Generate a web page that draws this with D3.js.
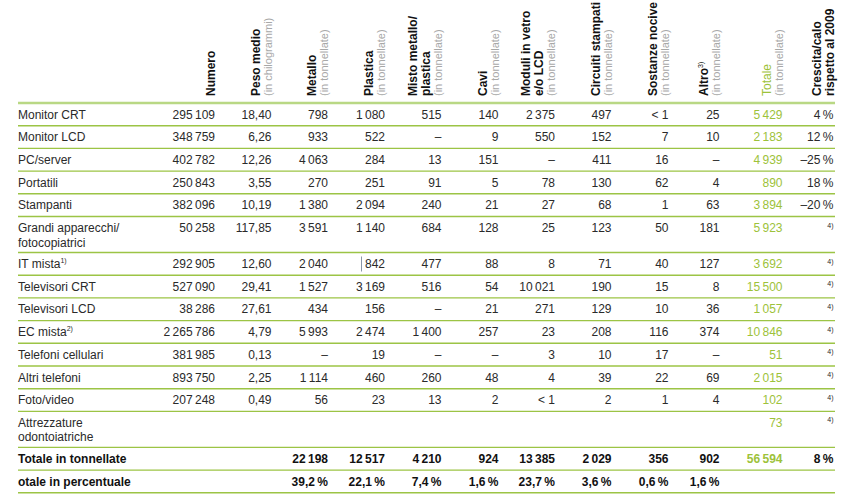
<!DOCTYPE html>
<html><head><meta charset="utf-8">
<script src="https://cdn.jsdelivr.net/npm/d3@7"></script>
<style>
html,body{margin:0;padding:0;background:#fff;}
svg{display:block;font-family:"Liberation Sans",Arial,Helvetica,sans-serif;}
</style></head>
<body><svg id="c" width="844" height="499"></svg>
<script>
// ---------- DATA ----------
const categories = ["Monitor CRT","Monitor LCD","PC/server","Portatili","Stampanti","Grandi apparecchi/|fotocopiatrici","IT mista","Televisori CRT","Televisori LCD","EC mista","Telefoni cellulari","Altri telefoni","Foto/video","Attrezzature|odontoiatriche"];
const categoryNotes = [null,null,null,null,null,null,"1)",null,null,"2)",null,null,null,null];
const numero   = [295109,348759,402782,250843,382096,50258,292905,527090,38286,2265786,381985,893750,207248,null];
const pesoMedio= [18.40,6.26,12.26,3.55,10.19,117.85,12.60,29.41,27.61,4.79,0.13,2.25,0.49,null];
const metallo  = [798,933,4063,270,1380,3591,2040,1527,434,5993,"–",1114,56,null];
const plastica = [1080,522,284,251,2094,1140,842,3169,156,2474,19,460,23,null];
const misto    = [515,"–",13,91,240,684,477,516,"–",1400,"–",260,13,null];
const cavi     = [140,9,151,5,21,128,88,54,21,257,"–",48,2,null];
const moduli   = [2375,550,"–",78,27,25,8,10021,271,23,3,4,"<1",null];
const circuiti = [497,152,411,130,68,123,71,190,129,208,10,39,2,null];
const sostanze = ["<1",7,16,62,1,50,40,15,10,116,17,22,1,null];
const altro    = [25,10,"–",4,63,181,127,8,36,374,"–",69,4,null];
const totale   = [5429,2183,4939,890,3894,5923,3692,15500,1057,10846,51,2015,102,73];
const crescita = [4,12,-25,18,-20,null,null,null,null,null,null,null,null,null];
const crescitaNotes = [null,null,null,null,null,"4)","4)","4)","4)","4)","4)","4)","4)","4)"];

const totalTonLabel = "Totale in tonnellate";
const totalTon = {metallo:22198, plastica:12517, misto:4210, cavi:924, moduli:13385, circuiti:2029, sostanze:356, altro:902, totale:56594, crescita:8};
const totalPctLabel = "otale in percentuale";
const totalPct = {metallo:39.2, plastica:22.1, misto:7.4, cavi:1.6, moduli:23.7, circuiti:3.6, sostanze:0.6, altro:1.6};

const columnKeys = ["numero","peso","metallo","plastica","misto","cavi","moduli","circuiti","sostanze","altro","totale","crescita"];
const columnHeaders = [
  [["b","Numero"]],
  [["b","Peso medio"],["g","(in chilogrammi)"]],
  [["b","Metallo"],["g","(in tonnellate)"]],
  [["b","Plastica"],["g","(in tonnellate)"]],
  [["b","Misto metallo/"],["b","plastica"],["g","(in tonnellate)"]],
  [["b","Cavi"],["g","(in tonnellate)"]],
  [["b","Moduli in vetro"],["b","e/o LCD"],["g","(in tonnellate)"]],
  [["b","Circuiti stampati"],["g","(in tonnellate)"]],
  [["b","Sostanze nocive"],["g","(in tonnellate)"]],
  [["b","Altro","3)"],["g","(in tonnellate)"]],
  [["t","Totale"],["g","(in tonnellate)"]],
  [["b","Crescita/calo"],["b","rispetto al 2009"]]
];

// ---------- LAYOUT ----------
const svg = d3.select("#c");
const GREEN = "#9cc445", GREEN_TEXT = "#9dc23a", TXT = "#2a2a2a", GRAY = "#a8a8a8";
const left = 18, right = 835, headerBottom = 96, headerLine = 103;
const xRight = d3.scaleOrdinal().domain(columnKeys)
  .range([215,271.5,328,385,441.5,498.5,555,611.5,668.5,719.5,782.5,833.5]);

const loc = d3.formatLocale({decimal:",", thousands:"\u2009", grouping:[3], currency:["",""]});
const fInt = loc.format(",d"), fDec2 = loc.format(",.2f"), fDec1 = loc.format(",.1f");
function cell(v){ if(v===null||v===undefined) return ""; if(v==="<1") return "< 1"; if(typeof v==="string") return v; return fInt(v); }

// rows
const rows = categories.map((c,i)=>({
  label:c.split("|"), note:categoryNotes[i], bold:false,
  vals:{numero:cell(numero[i]), peso:pesoMedio[i]===null?"":fDec2(pesoMedio[i]), metallo:cell(metallo[i]), plastica:cell(plastica[i]),
        misto:cell(misto[i]), cavi:cell(cavi[i]), moduli:cell(moduli[i]), circuiti:cell(circuiti[i]), sostanze:cell(sostanze[i]),
        altro:cell(altro[i]), totale:cell(totale[i]),
        crescita: crescita[i]===null?"":(crescita[i]<0?"–"+Math.abs(crescita[i]):crescita[i])+"\u2009%"},
  cnote:crescitaNotes[i]
}));
const tv = {}; Object.keys(totalTon).forEach(k=>tv[k]=k==="crescita"?totalTon[k]+"\u2009%":fInt(totalTon[k]));
rows.push({label:[totalTonLabel], bold:true, vals:tv});
const pv = {}; Object.keys(totalPct).forEach(k=>pv[k]=fDec1(totalPct[k])+"\u2009%");
rows.push({label:[totalPctLabel], bold:true, vals:pv});

const unit = 22.7, extra = 13.3;
let acc = headerLine;
rows.forEach(r=>{ r.y0 = acc; r.h = unit + (r.label.length-1)*extra; acc += r.h; r.y1 = acc; });
const y = d3.scaleLinear().domain([0,1]).range([0,1]);

// header line
svg.append("line").attr("x1",left).attr("x2",right).attr("y1",headerLine).attr("y2",headerLine)
  .attr("stroke","#b9d884").attr("stroke-width",2.5);
// row lines
svg.selectAll("line.row").data(rows).join("line").attr("class","row")
  .attr("x1",left).attr("x2",right).attr("y1",d=>d.y1).attr("y2",d=>d.y1)
  .attr("stroke",GREEN).attr("stroke-width",1.4);

// headers (rotated)
columnKeys.forEach((k,ci)=>{
  const lines = columnHeaders[ci];
  let base = xRight(k);
  const bases = [];
  for(let i=lines.length-1;i>=0;i--){
    bases[i]=base;
    if(i>0){ base -= (lines[i][0]==="g" ? 12 : 13); }
  }
  lines.forEach((ln,i)=>{
    const t = svg.append("text")
      .attr("transform",`translate(${bases[i]},${headerBottom}) rotate(-90)`)
      .attr("text-anchor","start")
      .attr("font-size", ln[0]==="g"?11:12)
      .attr("font-weight", ln[0]==="b"?"bold":"normal")
      .attr("fill", ln[0]==="g"?GRAY:(ln[0]==="t"?GREEN_TEXT:"#111"));
    t.append("tspan").text(ln[1]);
    if(ln[2]) t.append("tspan").attr("font-size",7).attr("dy",-5).attr("font-weight","normal").text(ln[2]);
  });
});

// row labels
const g = svg.selectAll("g.r").data(rows).join("g").attr("class","r")
  .attr("transform",d=>`translate(0,${d.y0})`);
g.each(function(r){
  const s = d3.select(this);
  r.label.forEach((l,li)=>{
    const t = s.append("text").attr("x",left).attr("y",y(15.5 + li*14.5))
      .attr("font-size",12).attr("font-weight",r.bold?"bold":"normal").attr("fill",r.bold?"#111":TXT);
    t.append("tspan").text(l);
    if(r.note && li===r.label.length-1) t.append("tspan").attr("font-size",7).attr("dy",-5).text(r.note);
  });
  columnKeys.forEach(k=>{
    const v = r.vals[k]; if(v===undefined||v==="") return;
    s.append("text").attr("x",xRight(k)).attr("y",15.5).attr("text-anchor","end")
      .attr("font-size",12).attr("font-weight",r.bold?"bold":"normal")
      .attr("fill",k==="totale"?GREEN_TEXT:(r.bold?"#111":TXT)).text(v);
  });
  if(r.cnote){
    s.append("text").attr("x",xRight("crescita")).attr("y",11).attr("text-anchor","end")
      .attr("font-size",7).attr("fill",TXT).text(r.cnote);
  }
});

// small vertical mark before 842 (IT mista, Plastica) as in the source
const itRow = rows[6];
svg.append("line").attr("x1",361.5).attr("x2",361.5).attr("y1",itRow.y0+4).attr("y2",itRow.y0+19)
  .attr("stroke","#8a96a8").attr("stroke-width",1);
</script></body></html>
